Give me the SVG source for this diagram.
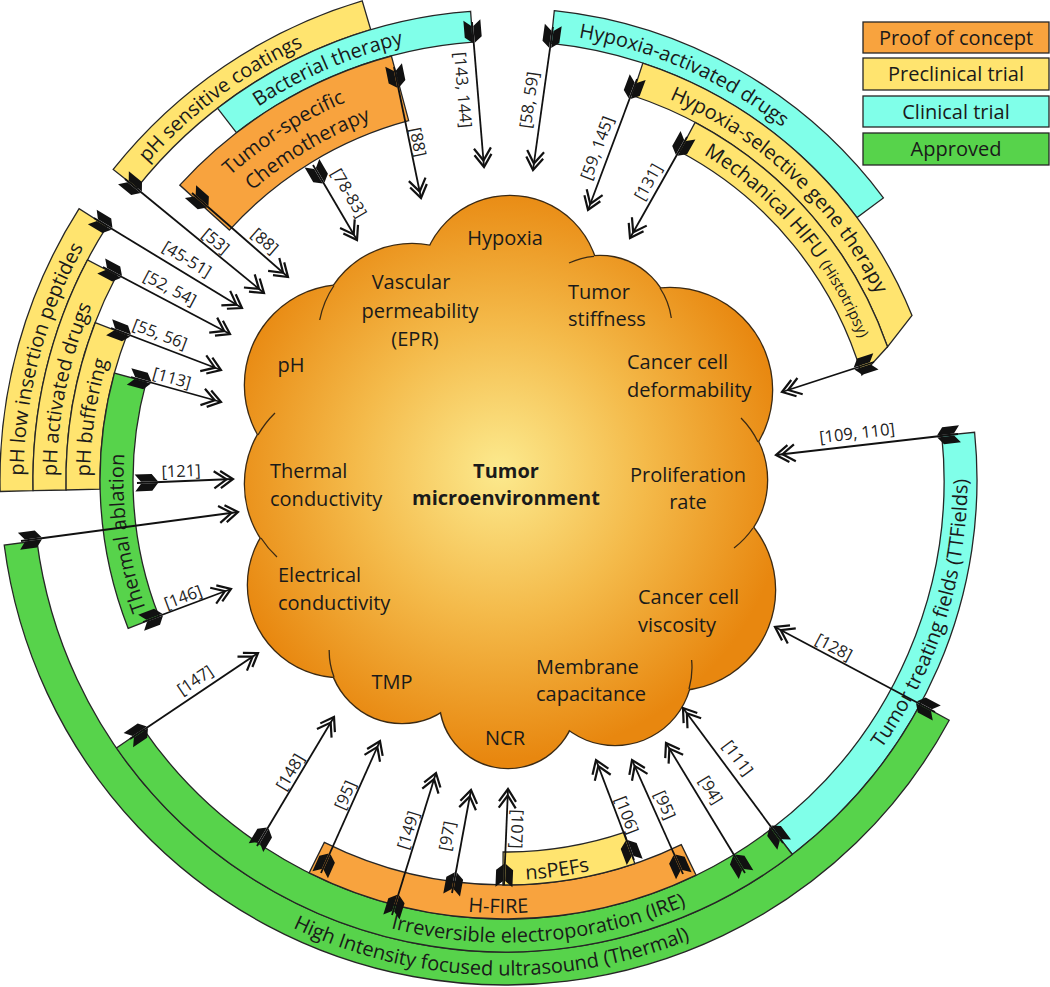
<svg xmlns="http://www.w3.org/2000/svg" xmlns:xlink="http://www.w3.org/1999/xlink" width="1050" height="987" viewBox="0 0 1050 987">
<style>
text{font-family:"Open Sans","Liberation Sans",sans-serif;fill:#1a1a1a}
.nd{font-size:20px}
.nb{font-size:20px;font-weight:bold;text-anchor:middle}
.bt{font-size:20px}
.lb{font-size:16.5px;text-anchor:middle;fill:#222}
.lg{font-size:20px;text-anchor:middle}
.bd{stroke:#262626;stroke-width:1.3}
.or{fill:#F8A33E}.ye{fill:#FFE46F}.cy{fill:#80FFE9}.gr{fill:#57D34B}
.ar{stroke:#111;stroke-width:1.8;fill:none;marker-start:url(#ft);marker-end:url(#ah)}
</style>
<defs>
<radialGradient id="cg" gradientUnits="userSpaceOnUse" cx="500" cy="470" r="290">
<stop offset="0" stop-color="#FCEA8E"/>
<stop offset="0.5" stop-color="#F4BA4A"/>
<stop offset="1" stop-color="#E8870F"/>
</radialGradient>
<marker id="ah" markerUnits="userSpaceOnUse" viewBox="-24 -12 28 24" markerWidth="28" markerHeight="24" refX="0" refY="0" orient="auto">
<path d="M-12.5,-8.5 L0,0 L-12.5,8.5 M-19,-8.5 L-6.5,0 L-19,8.5" fill="none" stroke="#111" stroke-width="2.2"/>
</marker>
<marker id="ft" markerUnits="userSpaceOnUse" viewBox="-8 -10 32 20" markerWidth="32" markerHeight="20" refX="0" refY="0" orient="auto">
<path d="M4,-1 L21,-1 L15,-8.5 L-2,-8.5 Z M4,1 L21,1 L15,8.5 L-2,8.5 Z" fill="#111"/>
</marker>
<g id="lobes">
<circle cx="510" cy="285" r="89"/>
<circle cx="412" cy="338" r="94"/>
<circle cx="600" cy="328" r="72"/>
<circle cx="345" cy="385" r="100"/>
<circle cx="670" cy="390" r="102"/>
<circle cx="345" cy="484" r="100"/>
<circle cx="680" cy="480" r="87"/>
<circle cx="340" cy="585" r="92"/>
<circle cx="675" cy="590" r="100"/>
<circle cx="402" cy="650" r="73"/>
<circle cx="508" cy="700" r="68"/>
<circle cx="615" cy="668" r="77"/>
</g>
<path id="tp1" d="M23.5,475.8 A481.5,481.5 0 0,1 264.3,63"/>
<path id="tp2" d="M56.5,476.1 A448.5,448.5 0 0,1 280.75,91.6"/>
<path id="tp3" d="M90,476.4 A415,415 0 0,1 297.5,120.6"/>
<path id="tp4" d="M226,740.2 A381.5,381.5 0 0,1 165.1,306.8"/>
<path id="tp5" d="M51.2,329.9 A478,478 0 0,1 490.8,2.2"/>
<path id="tp6" d="M124.3,244.9 A447.5,447.5 0 0,1 595.7,41.8"/>
<path id="tp7" d="M126.2,323.1 A410,410 0 0,1 522.9,70.4"/>
<path id="tp8" d="M154.7,322.6 A384,384 0 0,1 533.1,97"/>
<path id="tp9" d="M417.9,40 A448.5,448.5 0 0,1 888.7,247.7"/>
<path id="tp10" d="M565.6,69.5 A415,415 0 0,1 911.5,396.6"/>
<path id="tp11" d="M602.5,111.2 A381.5,381.5 0 0,1 884.9,445.4"/>
<path id="tp12" d="M785.3,847.9 A462.5,462.5 0 0,0 946.6,342.5"/>
<path id="tp13" d="M175.4,850 A495.5,495.5 0 0,0 812,868.9"/>
<path id="tp14" d="M235.8,856.1 A462.5,462.5 0 0,0 828.6,810.4"/>
<path id="tp15" d="M221.5,807.7 A433,433 0 0,0 778.2,816"/>
<path id="tp16" d="M290.7,817.7 A400,400 0 0,0 800.4,749.7"/>
</defs>
<rect width="1050" height="987" fill="#ffffff"/>

<g id="legend">
<g id="leg-proof"><rect x="863" y="22" width="186" height="31" class="or bd"/><text class="lg" x="956" y="44.5">Proof of concept</text></g>
<g id="leg-preclinical"><rect x="863" y="58" width="186" height="32" class="ye bd"/><text class="lg" x="956" y="81">Preclinical trial</text></g>
<g id="leg-clinical"><rect x="863" y="96" width="186" height="31" class="cy bd"/><text class="lg" x="956" y="118.5">Clinical trial</text></g>
<g id="leg-approved"><rect x="863" y="133" width="186" height="32" class="gr bd"/><text class="lg" x="956" y="156">Approved</text></g>
</g>

<g id="band-ph-low"><path class="ye bd" d="M0.1,491.5 A505,505 0 0,1 79.1,208.7 L106.9,226.4 A472,472 0 0,0 33.1,490.7 Z"/><text class="bt"><textPath xlink:href="#tp1" href="#tp1">pH low insertion peptides</textPath></text></g>
<g id="band-ph-activated"><path class="ye bd" d="M33.1,490.7 A472,472 0 0,1 87.5,259.9 L116.7,275.3 A439,439 0 0,0 66.1,490 Z"/><text class="bt"><textPath xlink:href="#tp2" href="#tp2">pH activated drugs</textPath></text></g>
<g id="band-ph-buffering"><path class="ye bd" d="M66.1,490 A439,439 0 0,1 95.2,322.7 L126.9,334.9 A405,405 0 0,0 100.1,489.2 Z"/><text class="bt"><textPath xlink:href="#tp3" href="#tp3">pH buffering</textPath></text></g>
<g id="band-thermal-ablation"><path class="gr bd" d="M128.2,628.4 A405,405 0 0,1 114.4,373.1 L146.2,381.8 A372,372 0 0,0 158.9,616.3 Z"/><text class="bt" text-anchor="middle"><textPath xlink:href="#tp4" href="#tp4" startOffset="50%">Thermal ablation</textPath></text></g>
<g id="band-ph-coatings"><path class="ye bd" d="M113.2,169.4 A500,500 0 0,1 362.2,0.8 L370.7,29.6 A470,470 0 0,0 136.7,188.1 Z"/><text class="bt" text-anchor="middle"><textPath xlink:href="#tp5" href="#tp5" startOffset="50%">pH sensitive coatings</textPath></text></g>
<g id="band-bacterial"><path class="cy bd" d="M217.5,108.2 A470,470 0 0,1 470.6,11.3 L472.8,42.2 A439,439 0 0,0 236.4,132.7 Z"/><text class="bt" text-anchor="middle"><textPath xlink:href="#tp6" href="#tp6" startOffset="50%">Bacterial therapy</textPath></text></g>
<g id="band-chemo"><path class="or bd" d="M179.8,185.1 A439,439 0 0,1 391.4,56 L408.7,120.7 A372,372 0 0,0 229.4,230.1 Z"/><text class="bt" text-anchor="middle"><textPath xlink:href="#tp7" href="#tp7" startOffset="50%">Tumor-specific</textPath></text><text class="bt" text-anchor="middle"><textPath xlink:href="#tp8" href="#tp8" startOffset="50%">Chemotherapy</textPath></text></g>
<g id="band-hypoxia-drugs"><path class="cy bd" d="M554.3,10.6 A472,472 0 0,1 883.4,197.9 L857,217.6 A439,439 0 0,0 550.9,43.4 Z"/><text class="bt" text-anchor="middle"><textPath xlink:href="#tp9" href="#tp9" startOffset="50%">Hypoxia-activated drugs</textPath></text></g>
<g id="band-gene"><path class="ye bd" d="M642.8,63.2 A439,439 0 0,1 912,315.5 L887.5,346.8 A405,405 0 0,0 632.2,95.5 Z"/><text class="bt" text-anchor="middle"><textPath xlink:href="#tp10" href="#tp10" startOffset="50%">Hypoxia-selective gene therapy</textPath></text></g>
<g id="band-mech-hifu"><path class="ye bd" d="M695.1,122.4 A405,405 0 0,1 887.5,346.8 L861.9,375 A372,372 0 0,0 679.6,151.5 Z"/><text class="bt" text-anchor="middle"><textPath xlink:href="#tp11" href="#tp11" startOffset="50%">Mechanical HIFU <tspan font-size="15">(Histotripsy)</tspan></textPath></text></g>
<g id="band-ttfields"><path class="cy bd" d="M974.6,432.3 A472,472 0 0,1 792.3,854.5 L772.2,828.3 A439,439 0 0,0 941.8,435.6 Z"/><text class="bt" text-anchor="middle"><textPath xlink:href="#tp12" href="#tp12" startOffset="50%">Tumor treating fields (TTFields)</textPath></text></g>
<g id="band-hifu"><path class="gr bd" d="M949.2,720.2 A505,505 0 0,1 4.2,545 L36.9,540.8 A472,472 0 0,0 920.2,704.5 Z"/><text class="bt" text-anchor="middle"><textPath xlink:href="#tp13" href="#tp13" startOffset="50%">High Intensity focused ultrasound (Thermal)</textPath></text></g>
<g id="band-ire"><path class="gr bd" d="M792.3,854.5 A472,472 0 0,1 116.5,748 L143.6,729.3 A439,439 0 0,0 772.2,828.3 Z"/><text class="bt" text-anchor="middle"><textPath xlink:href="#tp14" href="#tp14" startOffset="50%">Irreversible electroporation (IRE)</textPath></text></g>
<g id="band-hfire"><path class="or bd" d="M696.1,875.2 A439,439 0 0,1 309.1,872.9 L324.3,842.4 A405,405 0 0,0 681.3,844.6 Z"/><text class="bt" text-anchor="middle"><textPath xlink:href="#tp15" href="#tp15" startOffset="50%">H-FIRE</textPath></text></g>
<g id="band-nspefs"><path class="ye bd" d="M634.8,863.6 A405,405 0 0,1 502.9,885 L503.1,852 A372,372 0 0,0 624.3,832.4 Z"/><text class="bt" text-anchor="middle"><textPath xlink:href="#tp16" href="#tp16" startOffset="50%">nsPEFs</textPath></text></g>

<g id="cloud">
<use href="#lobes" xlink:href="#lobes" fill="none" stroke="#3b2a14" stroke-width="2.6"/>
<use href="#lobes" xlink:href="#lobes" fill="url(#cg)"/>
<circle cx="510" cy="480" r="220" fill="url(#cg)"/>
<path d="M660,288 A72,72 0 0,1 671.3,318 M569,263 A72,72 0 0,1 594,256.3 M334,285.5 A94,94 0 0,0 319.7,320 M258,435 A100,100 0 0,1 275,413 M261,538 A100,100 0 0,0 277,557 M758,442 A87,87 0 0,0 741,418 M753,528 A87,87 0 0,1 734,548 M334,677 A73,73 0 0,1 329.2,650 M689,689 A77,77 0 0,0 691.6,660" fill="none" stroke="#3b2a14" stroke-width="1.3"/>
</g>

<g id="n-hypoxia"><text class="nd" x="505" y="245" text-anchor="middle">Hypoxia</text></g>
<g id="n-vascular"><text class="nd" text-anchor="middle"><tspan x="411" y="289">Vascular</tspan><tspan x="420" y="318">permeability</tspan><tspan x="415" y="346">(EPR)</tspan></text></g>
<g id="n-stiffness"><text class="nd"><tspan x="568" y="299">Tumor</tspan><tspan x="568" y="326">stiffness</tspan></text></g>
<g id="n-ph"><text class="nd" x="291" y="372" text-anchor="middle">pH</text></g>
<g id="n-deformability"><text class="nd"><tspan x="627" y="369">Cancer cell</tspan><tspan x="627" y="397">deformability</tspan></text></g>
<g id="n-thermal"><text class="nd"><tspan x="270" y="478">Thermal</tspan><tspan x="270" y="506">conductivity</tspan></text></g>
<g id="n-center"><text class="nb"><tspan x="506" y="478">Tumor</tspan><tspan x="506" y="505">microenvironment</tspan></text></g>
<g id="n-proliferation"><text class="nd" text-anchor="middle"><tspan x="688" y="482">Proliferation</tspan><tspan x="688" y="509">rate</tspan></text></g>
<g id="n-electrical"><text class="nd"><tspan x="278" y="582">Electrical</tspan><tspan x="278" y="610">conductivity</tspan></text></g>
<g id="n-viscosity"><text class="nd"><tspan x="638" y="604">Cancer cell</tspan><tspan x="638" y="632">viscosity</tspan></text></g>
<g id="n-membrane"><text class="nd"><tspan x="536" y="674">Membrane</tspan><tspan x="536" y="701">capacitance</tspan></text></g>
<g id="n-tmp"><text class="nd" x="392" y="689" text-anchor="middle">TMP</text></g>
<g id="n-ncr"><text class="nd" x="505" y="745" text-anchor="middle">NCR</text></g>

<g id="connectors">
<line class="ar" x1="125" y1="179" x2="264" y2="293"/>
<line class="ar" x1="192" y1="193" x2="288" y2="277"/>
<line class="ar" x1="94" y1="218" x2="242" y2="308"/>
<line class="ar" x1="103" y1="267" x2="230" y2="334"/>
<line class="ar" x1="111" y1="328" x2="221" y2="370"/>
<line class="ar" x1="131" y1="377" x2="221" y2="402"/>
<line class="ar" x1="137" y1="483" x2="233" y2="479"/>
<line class="ar" x1="21" y1="541" x2="238" y2="512"/>
<line class="ar" x1="143" y1="622" x2="231" y2="589"/>
<line class="ar" x1="130" y1="739" x2="258" y2="653"/>
<line class="ar" x1="257" y1="846" x2="334" y2="717"/>
<line class="ar" x1="321" y1="873" x2="380" y2="741"/>
<line class="ar" x1="392" y1="915" x2="436" y2="773"/>
<line class="ar" x1="452" y1="893" x2="471" y2="790"/>
<line class="ar" x1="504" y1="885" x2="508" y2="789"/>
<line class="ar" x1="634" y1="860" x2="596" y2="760"/>
<line class="ar" x1="683" y1="874" x2="632" y2="760"/>
<line class="ar" x1="745" y1="873" x2="666" y2="743"/>
<line class="ar" x1="783" y1="843" x2="683" y2="708"/>
<line class="ar" x1="935" y1="712" x2="775" y2="627"/>
<line class="ar" x1="958" y1="434" x2="776" y2="455"/>
<line class="ar" x1="874" y1="362" x2="782" y2="392"/>
<line class="ar" x1="553" y1="27" x2="533" y2="170"/>
<line class="ar" x1="637" y1="79" x2="588" y2="210"/>
<line class="ar" x1="687" y1="137" x2="630" y2="238"/>
<line class="ar" x1="472" y1="22" x2="484" y2="167"/>
<line class="ar" x1="394" y1="67" x2="421" y2="198"/>
<line class="ar" x1="313" y1="165" x2="357" y2="240"/>
<g id="refs">
<text class="lb" dy=".35em" transform="translate(216 241) rotate(39.4)">[53]</text>
<text class="lb" dy=".35em" transform="translate(265 241) rotate(41.2)">[88]</text>
<text class="lb" dy=".35em" transform="translate(187 259) rotate(31.3)">[45-51]</text>
<text class="lb" dy=".35em" transform="translate(170 288) rotate(27.8)">[52, 54]</text>
<text class="lb" dy=".35em" transform="translate(160 334) rotate(20.9)">[55, 56]</text>
<text class="lb" dy=".35em" transform="translate(172 378) rotate(15.5)">[113]</text>
<text class="lb" dy=".35em" transform="translate(181 471) rotate(-2.4)">[121]</text>
<text class="lb" dy=".35em" transform="translate(183 597) rotate(-20.6)">[146]</text>
<text class="lb" dy=".35em" transform="translate(195 680) rotate(-33.9)">[147]</text>
<text class="lb" dy=".35em" transform="translate(290 772) rotate(-59.2)">[148]</text>
<text class="lb" dy=".35em" transform="translate(345 795) rotate(-65.9)">[95]</text>
<text class="lb" dy=".35em" transform="translate(408 830) rotate(-72.8)">[149]</text>
<text class="lb" dy=".35em" transform="translate(447 836) rotate(-79.5)">[97]</text>
<text class="lb" dy=".35em" transform="translate(517 829) rotate(92.4)">[107]</text>
<text class="lb" dy=".35em" transform="translate(627 815) rotate(69.2)">[106]</text>
<text class="lb" dy=".35em" transform="translate(665 805) rotate(65.9)">[95]</text>
<text class="lb" dy=".35em" transform="translate(711 790) rotate(58.7)">[94]</text>
<text class="lb" dy=".35em" transform="translate(738 758) rotate(53.5)">[111]</text>
<text class="lb" dy=".35em" transform="translate(834 647) rotate(28)">[128]</text>
<text class="lb" dy=".35em" transform="translate(857 433) rotate(-6.6)">[109, 110]</text>
<text class="lb" dy=".35em" transform="translate(529 100) rotate(-82)">[58, 59]</text>
<text class="lb" dy=".35em" transform="translate(597 148) rotate(-69.5)">[59, 145]</text>
<text class="lb" dy=".35em" transform="translate(648 182) rotate(-60.6)">[131]</text>
<text class="lb" dy=".35em" transform="translate(463 90) rotate(85.3)">[143, 144]</text>
<text class="lb" dy=".35em" transform="translate(418 142) rotate(78.4)">[88]</text>
<text class="lb" dy=".35em" transform="translate(349 193) rotate(59.6)">[78-83]</text>
</g>
</g>
</svg>
